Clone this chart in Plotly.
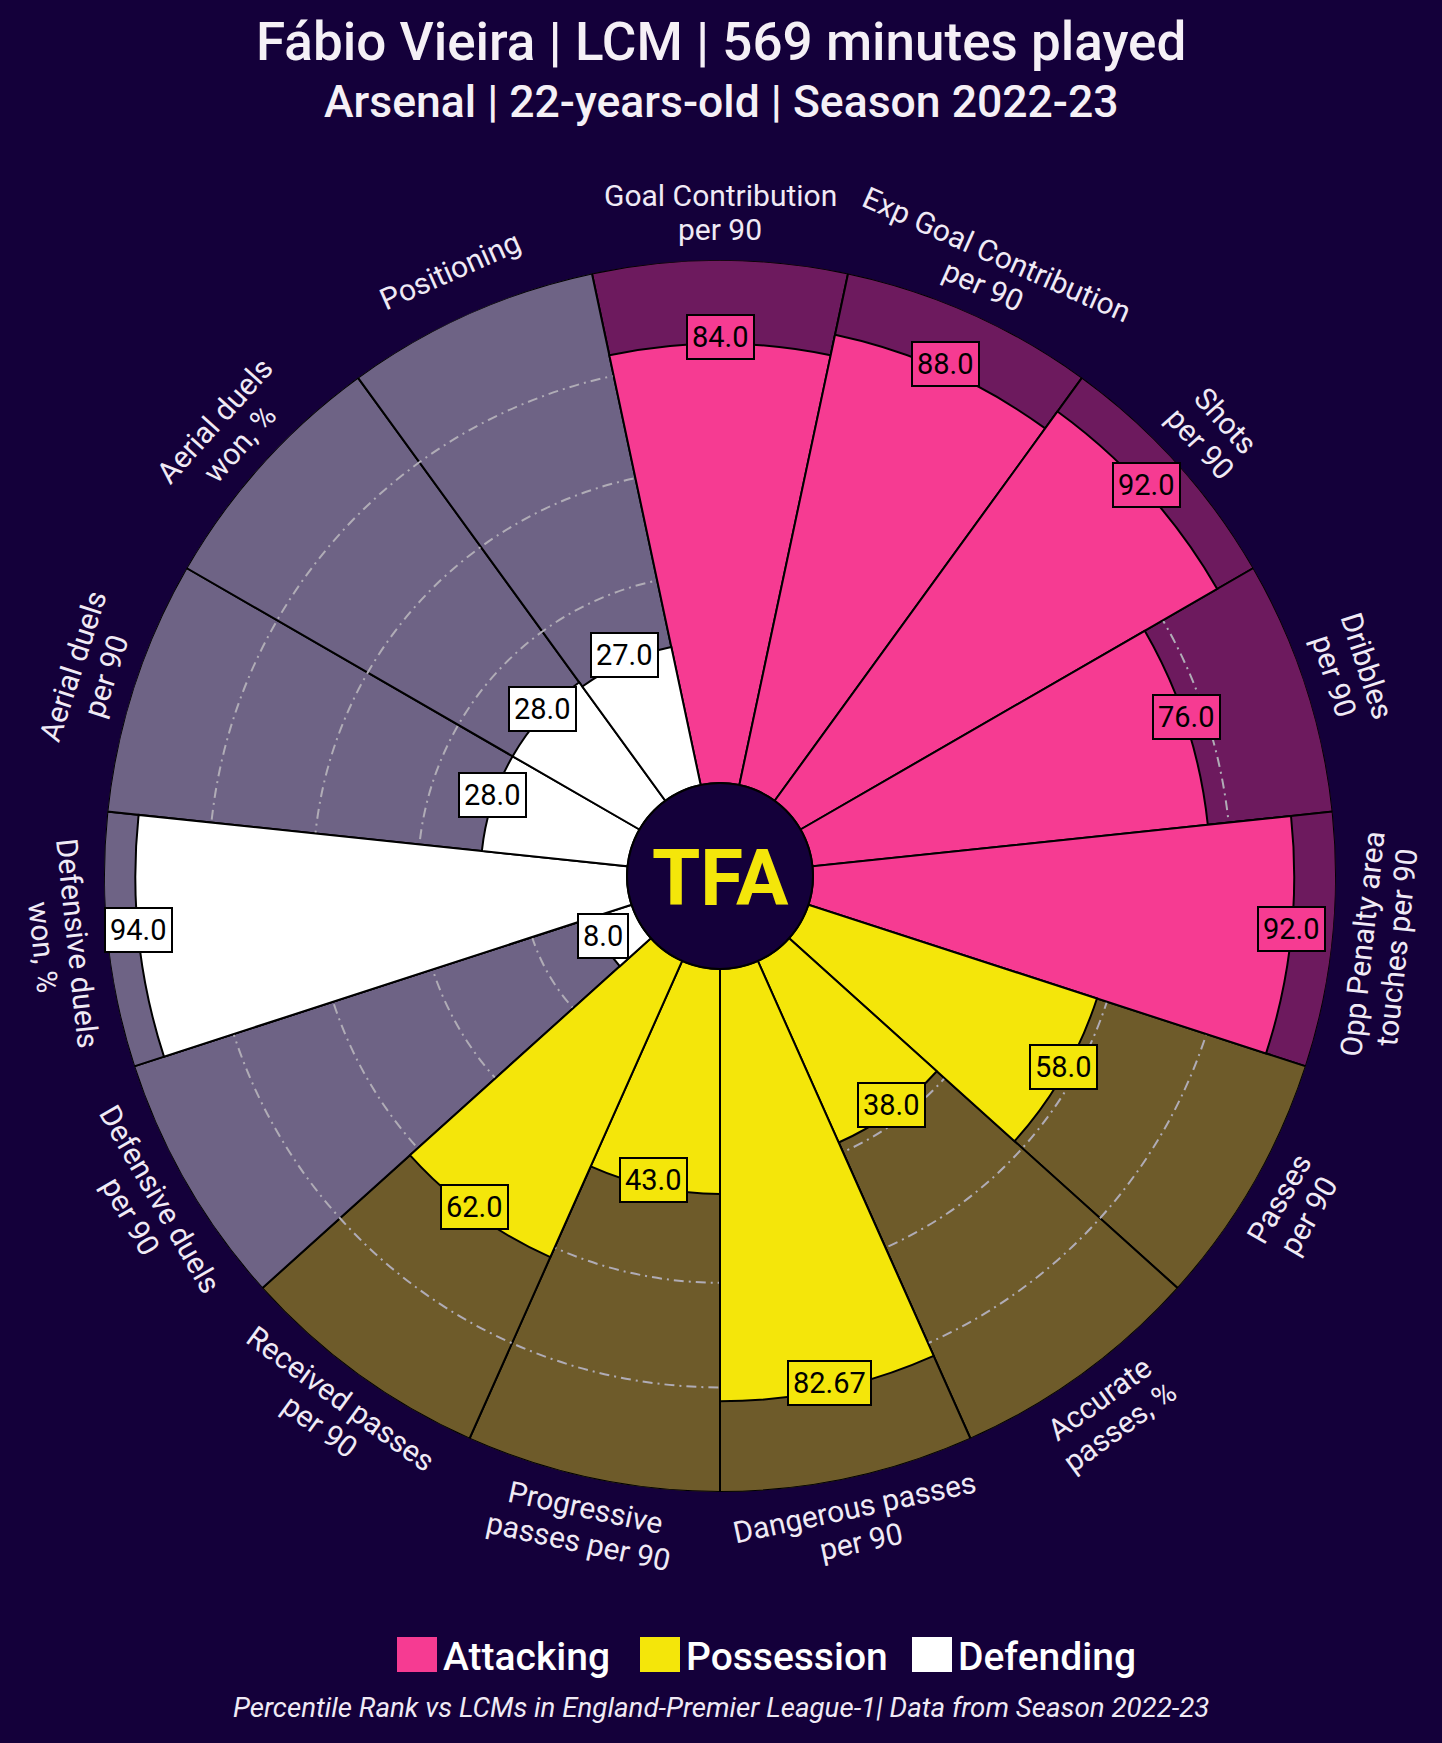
import math
import plotly.graph_objects as go

# ---- data ----
metrics = [
    "Goal Contribution<br>per 90", "Exp Goal Contribution<br>per 90", "Shots<br>per 90",
    "Dribbles<br>per 90", "Opp Penalty area<br>touches per 90", "Passes<br>per 90",
    "Accurate<br>passes, %", "Dangerous passes<br>per 90", "Progressive<br>passes per 90",
    "Received passes<br>per 90", "Defensive duels<br>per 90", "Defensive duels<br>won, %",
    "Aerial duels<br>per 90", "Aerial duels<br>won, %", "Positioning",
]
groups = ["Attacking"] * 5 + ["Possession"] * 5 + ["Defending"] * 5
percentiles = [84.0, 88.0, 92.0, 76.0, 92.0, 58.0, 38.0, 82.67, 43.0, 62.0, 8.0, 94.0, 28.0, 28.0, 27.0]
value_labels = ["84.0", "88.0", "92.0", "76.0", "92.0", "58.0", "38.0", "82.67", "43.0", "62.0",
                "8.0", "94.0", "28.0", "28.0", "27.0"]
max_percentile = [100] * 15
legend_names = ["Attacking", "Possession", "Defending"]

title = "Fábio Vieira | LCM | 569 minutes played"
subtitle = "Arsenal | 22-years-old | Season 2022-23"
footer = "Percentile Rank vs LCMs in England-Premier League-1| Data from Season 2022-23"

# ---- style ----
BG = "#14003A"
slice_color = {"Attacking": "#F63B92", "Possession": "#F4E60A", "Defending": "#FFFFFF"}
back_color = {"Attacking": "#6D1A5E", "Possession": "#6E5B2A", "Defending": "#6E6385"}
TEXT = "#F0EAF5"
FONT = "Roboto"

W, H = 1442, 1743
CX, CY = 720, 876        # centre of the pizza in pixels
R_OUT, R_IN = 616, 93    # outer radius and hole radius in pixels
STEP = 360 / len(metrics)
angles = [i * STEP for i in range(len(metrics))]


def paper(x, y):
    return x / W, 1 - y / H


def polar_px(theta, r_px):
    t = math.radians(theta)
    return CX + r_px * math.sin(t), CY - r_px * math.cos(t)


def value_radius(v):
    return R_IN + v / 100 * (R_OUT - R_IN)


dom_x = [(CX - R_OUT) / W, (CX + R_OUT) / W]
dom_y = [1 - (CY + R_OUT) / H, 1 - (CY - R_OUT) / H]

fig = go.Figure()

# background slices (full length)
fig.add_trace(go.Barpolar(
    r=max_percentile, theta=angles, width=[STEP] * len(angles),
    marker=dict(color=[back_color[g] for g in groups], line=dict(color="black", width=2)),
    subplot="polar", showlegend=False, hoverinfo="skip",
))
# percentile slices (second polar on top so the grid sits between the two)
fig.add_trace(go.Barpolar(
    r=percentiles, theta=angles, width=[STEP] * len(angles),
    marker=dict(color=[slice_color[g] for g in groups], line=dict(color="black", width=2)),
    subplot="polar2", showlegend=False, hoverinfo="skip",
))

hidden_angular = dict(direction="clockwise", rotation=90, showgrid=False, showticklabels=False,
                      showline=False, ticks="")
fig.update_layout(
    width=W, height=H, autosize=False,
    paper_bgcolor=BG, plot_bgcolor=BG,
    margin=dict(l=0, r=0, t=0, b=0, pad=0),
    polar=dict(
        domain=dict(x=dom_x, y=dom_y), bgcolor="rgba(0,0,0,0)", hole=R_IN / R_OUT, bargap=0,
        radialaxis=dict(range=[0, 100], showgrid=False, showticklabels=False, showline=False, ticks=""),
        angularaxis=hidden_angular,
    ),
    polar2=dict(
        domain=dict(x=dom_x, y=dom_y), bgcolor="rgba(0,0,0,0)", hole=R_IN / R_OUT, bargap=0,
        radialaxis=dict(range=[0, 100], tickvals=[20, 40, 60, 80], showgrid=True,
                        gridcolor="#B0ACB6", gridwidth=1.6, griddash="10px,5px,2px,5px",
                        showticklabels=False, showline=False, ticks=""),
        angularaxis=hidden_angular,
    ),
)

annotations = []

# value boxes
for ang, v, txt, g in zip(angles, percentiles, value_labels, groups):
    x, y = paper(*polar_px(ang, value_radius(v)))
    annotations.append(dict(
        x=x, y=y, xref="paper", yref="paper", text=txt, showarrow=False,
        xanchor="center", yanchor="middle", yshift=7,
        font=dict(family=FONT, size=29, color="black"),
        bgcolor=slice_color[g], bordercolor="black", borderwidth=2, borderpad=4,
    ))

# metric names, rotated along the circle
LABEL_R = 663
LINE_GAP = 34
for ang, name in zip(angles, metrics):
    if ang <= 90:
        rot = ang
    elif ang < 270:
        rot = ang - 180
    else:
        rot = ang - 360
    lines = name.split("<br>")
    bx, by = polar_px(ang, LABEL_R)
    ux, uy = math.sin(math.radians(rot)), -math.cos(math.radians(rot))
    for i, line in enumerate(lines):
        off = ((len(lines) - 1) / 2 - i) * LINE_GAP
        x, y = paper(bx + ux * off, by + uy * off)
        annotations.append(dict(
            x=x, y=y, xref="paper", yref="paper", text=line, showarrow=False,
            xanchor="center", yanchor="middle", textangle=rot,
            font=dict(family=FONT, size=30, color=TEXT),
        ))

# centre logo
annotations.append(dict(
    x=paper(CX, CY)[0], y=paper(CX, CY)[1], xref="paper", yref="paper", text="<b>TFA</b>",
    showarrow=False, xanchor="center", yanchor="middle", yshift=-2,
    font=dict(family=FONT, size=78, color="#F4E60A", weight=900),
))

# titles
for txt, ypx, size in [(title, 42, 53), (subtitle, 102, 44.5)]:
    annotations.append(dict(
        x=0.5, y=paper(0, ypx)[1], xref="paper", yref="paper", text=txt, showarrow=False,
        xanchor="center", yanchor="middle",
        font=dict(family=FONT, size=size, color="#F5F0F6", weight=500),
    ))

annotations.append(dict(
    x=0.5, y=paper(0, 1707)[1], xref="paper", yref="paper", text=footer, showarrow=False,
    xanchor="center", yanchor="middle",
    font=dict(family=FONT, size=27.7, color=TEXT, style="italic"),
))

# legend
shapes = []
legend_x = [397, 640, 912]
for name, lx in zip(legend_names, legend_x):
    x0, y0 = paper(lx, 1672)
    x1, y1 = paper(lx + 40, 1637)
    shapes.append(dict(type="rect", xref="paper", yref="paper", x0=x0, x1=x1, y0=y0, y1=y1,
                       fillcolor=slice_color[name], line=dict(width=0)))
    tx, ty = paper(lx + 44, 1657)
    annotations.append(dict(
        x=tx, y=ty, xref="paper", yref="paper", text=name, showarrow=False,
        xanchor="left", yanchor="middle",
        font=dict(family=FONT, size=39, color="#FFFFFF", weight=500),
    ))

# centre circle
cx0, cy0 = paper(CX - R_IN, CY + R_IN)
cx1, cy1 = paper(CX + R_IN, CY - R_IN)
shapes.append(dict(type="circle", xref="paper", yref="paper", x0=cx0, x1=cx1, y0=cy0, y1=cy1,
                   fillcolor=BG, line=dict(color="black", width=2), layer="above"))

fig.update_layout(annotations=annotations, shapes=shapes)
fig.write_html(
    "out.html",
    config={"displayModeBar": False},
    post_script="document.body.style.margin='0';document.body.style.background='%s';" % BG,
)
